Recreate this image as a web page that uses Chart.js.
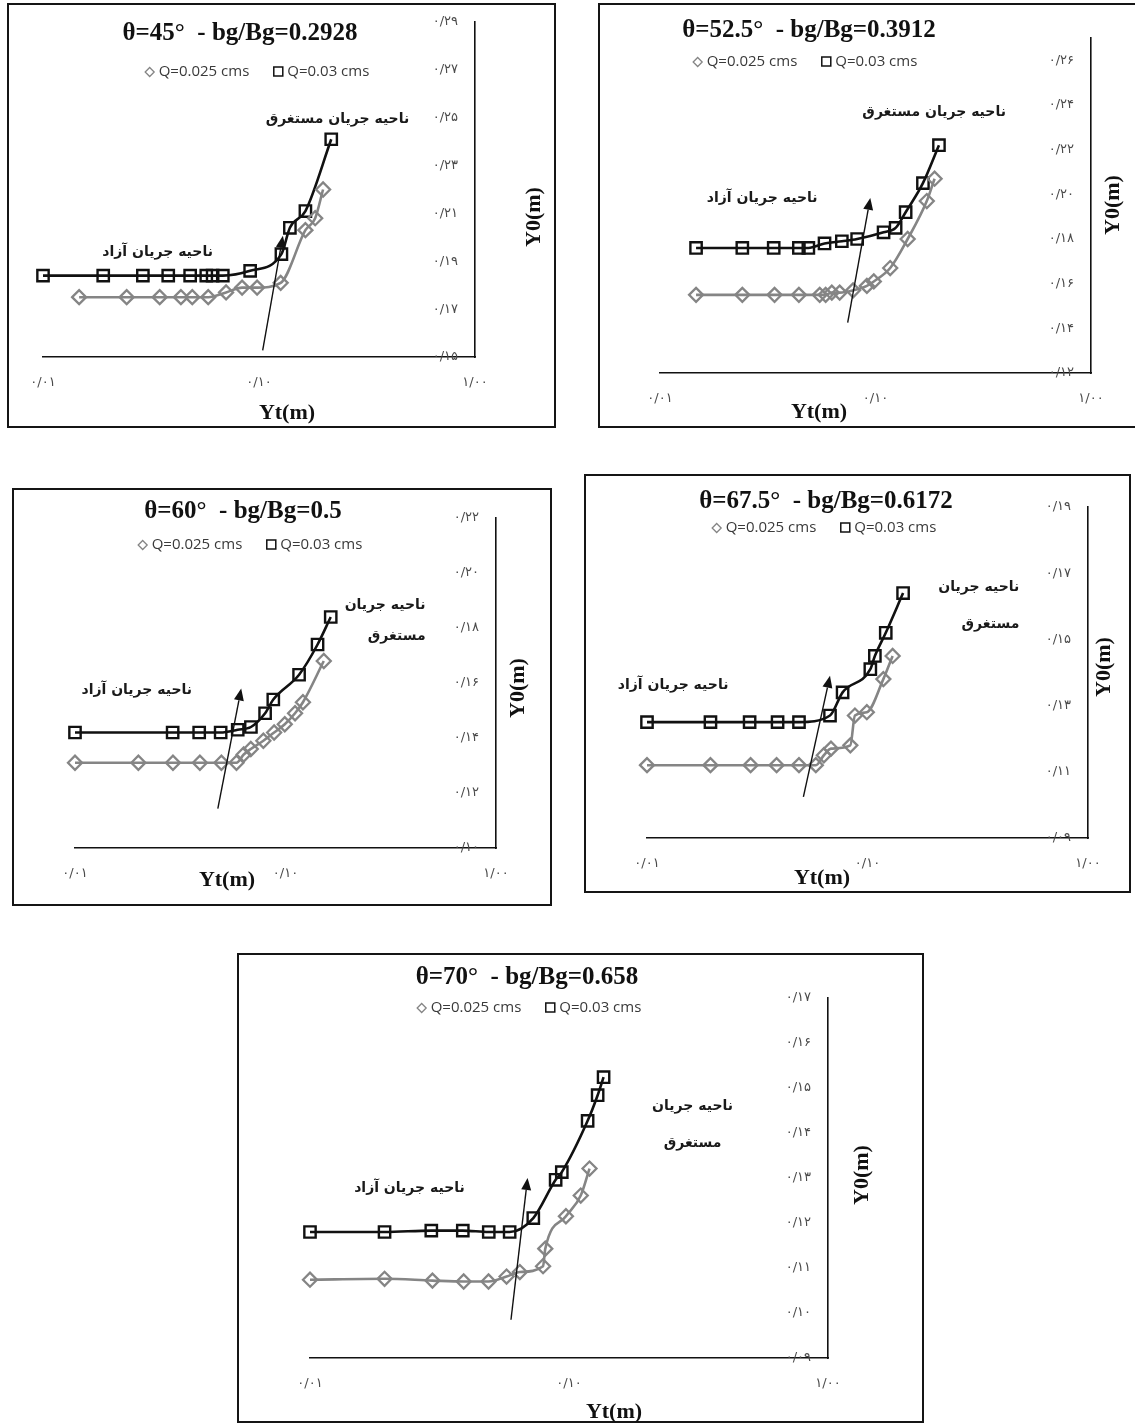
<!DOCTYPE html>
<html>
<head>
<meta charset="utf-8">
<script src="https://cdn.jsdelivr.net/npm/chart.js@4.4.1/dist/chart.umd.min.js"></script>
<style>
  html, body { margin: 0; padding: 0; background: #fff; width: 1135px; height: 1425px; overflow: hidden; }
  .panel { position: absolute; border: 2px solid #151515; box-sizing: border-box; background: #fff; }
  canvas { position: absolute; }
</style>
</head>
<body>
<script>
// Flow depth downstream (Yt) vs. upstream depth (Y0), both in metres,
// for two discharges at each gate angle.
const xTicks = [0.01, 0.1, 1];

// θ = 45°
const yt45_q025 = [0.0147, 0.0244, 0.0347, 0.0435, 0.0491, 0.0582, 0.0704, 0.0835, 0.098, 0.126, 0.164, 0.182, 0.198];
const y0_45_q025 = [0.175, 0.175, 0.175, 0.175, 0.175, 0.175, 0.177, 0.179, 0.179, 0.181, 0.203, 0.208, 0.220];
const yt45_q030 = [0.010, 0.019, 0.029, 0.038, 0.048, 0.057, 0.061, 0.068, 0.091, 0.127, 0.139, 0.164, 0.216];
const y0_45_q030 = [0.184, 0.184, 0.184, 0.184, 0.184, 0.184, 0.184, 0.184, 0.186, 0.193, 0.204, 0.211, 0.241];
const yTicks45 = [0.15, 0.17, 0.19, 0.21, 0.23, 0.25, 0.27, 0.29];

// θ = 52.5°
const yt52_q025 = [0.0147, 0.0241, 0.034, 0.0441, 0.0551, 0.0587, 0.0627, 0.0682, 0.0787, 0.0912, 0.0982, 0.117, 0.141, 0.173, 0.188];
const y0_52_q025 = [0.155, 0.155, 0.155, 0.155, 0.155, 0.155, 0.156, 0.156, 0.157, 0.159, 0.161, 0.167, 0.180, 0.197, 0.207];
const yt52_q030 = [0.0147, 0.0241, 0.0337, 0.0441, 0.0488, 0.058, 0.0698, 0.0822, 0.109, 0.124, 0.138, 0.166, 0.197];
const y0_52_q030 = [0.176, 0.176, 0.176, 0.176, 0.176, 0.178, 0.179, 0.180, 0.183, 0.185, 0.192, 0.205, 0.222];
const yTicks52 = [0.12, 0.14, 0.16, 0.18, 0.20, 0.22, 0.24, 0.26];

// θ = 60°
const yt60_q025 = [0.010, 0.020, 0.0292, 0.0392, 0.0496, 0.0585, 0.0633, 0.0684, 0.0785, 0.0883, 0.0992, 0.111, 0.121, 0.152];
const y0_60_q025 = [0.131, 0.131, 0.131, 0.131, 0.131, 0.131, 0.134, 0.136, 0.139, 0.142, 0.145, 0.149, 0.153, 0.168];
const yt60_q030 = [0.010, 0.0291, 0.0389, 0.0492, 0.0593, 0.0685, 0.080, 0.0875, 0.116, 0.142, 0.164];
const y0_60_q030 = [0.142, 0.142, 0.142, 0.142, 0.143, 0.144, 0.149, 0.154, 0.163, 0.174, 0.184];
const yTicks60 = [0.10, 0.12, 0.14, 0.16, 0.18, 0.20, 0.22];

// θ = 67.5°
const yt67_q025 = [0.010, 0.0194, 0.0295, 0.0387, 0.0489, 0.0583, 0.0634, 0.0683, 0.0836, 0.0877, 0.0993, 0.118, 0.130];
const y0_67_q025 = [0.112, 0.112, 0.112, 0.112, 0.112, 0.112, 0.115, 0.117, 0.118, 0.127, 0.128, 0.138, 0.145];
const yt67_q030 = [0.010, 0.0194, 0.0292, 0.0391, 0.0489, 0.0676, 0.0771, 0.103, 0.108, 0.121, 0.145];
const y0_67_q030 = [0.125, 0.125, 0.125, 0.125, 0.125, 0.127, 0.134, 0.141, 0.145, 0.152, 0.164];
const yTicks67 = [0.09, 0.11, 0.13, 0.15, 0.17, 0.19];

// θ = 70°
const yt70_q025 = [0.010, 0.0194, 0.0297, 0.0392, 0.0489, 0.0574, 0.0646, 0.0794, 0.081, 0.0973, 0.111, 0.120];
const y0_70_q025 = [0.1074, 0.1076, 0.1072, 0.1070, 0.1070, 0.1081, 0.1091, 0.1104, 0.1143, 0.1215, 0.1261, 0.1321];
const yt70_q030 = [0.010, 0.0194, 0.0294, 0.0389, 0.049, 0.059, 0.0728, 0.0888, 0.0938, 0.118, 0.129, 0.136];
const y0_70_q030 = [0.1180, 0.1180, 0.1183, 0.1183, 0.1180, 0.1180, 0.1211, 0.1296, 0.1313, 0.1427, 0.1484, 0.1524];
const yTicks70 = [0.09, 0.10, 0.11, 0.12, 0.13, 0.14, 0.15, 0.16, 0.17];

const seriesNames = ['Q=0.025 cms', 'Q=0.03 cms'];
const zoneFree = 'ناحیه جریان آزاد';
const zoneSubmerged = 'ناحیه جریان مستغرق';
const zoneLine1 = 'ناحیه جریان';
const zoneLine2 = 'مستغرق';

const FA_DIGITS = '۰۱۲۳۴۵۶۷۸۹';
function faNum(v) {
  return Number(v).toFixed(2).replace(/\d/g, d => FA_DIGITS[+d]).replace('.', '/');
}

// Panel layout (page pixels) and annotation anchors (data units)
const panels = [
  { box: [7, 3, 556, 428], plot: [43, 22, 475, 357], yMin: 0.15, yMax: 0.29, yTicks: yTicks45,
    title: 'θ=45°  - bg/Bg=0.2928', titleAt: [240, 34], legendAt: [257, 72],
    xTitleAt: [287, 413], yTitleAt: [534, 217],
    q025: [yt45_q025, y0_45_q025], q030: [yt45_q030, y0_45_q030],
    arrow: [[0.104, 0.1528], [0.129, 0.2007]],
    notes: [[zoneSubmerged, 0.496, 0.2492, 'right'], [zoneFree, 0.0612, 0.1936, 'right']] },
  { box: [598, 3, 1142, 428], plot: [660, 38, 1091, 373], yMin: 0.12, yMax: 0.27, yTicks: yTicks52,
    title: 'θ=52.5°  - bg/Bg=0.3912', titleAt: [809, 31], legendAt: [805, 62],
    xTitleAt: [819, 412], yTitleAt: [1113, 205],
    q025: [yt52_q025, y0_52_q025], q030: [yt52_q030, y0_52_q030],
    arrow: [[0.0743, 0.1426], [0.0946, 0.1984]],
    notes: [[zoneSubmerged, 0.403, 0.2366, 'right'], [zoneFree, 0.0538, 0.1981, 'right']] },
  { box: [12, 488, 552, 906], plot: [75, 518, 496, 848], yMin: 0.10, yMax: 0.22, yTicks: yTicks60,
    title: 'θ=60°  - bg/Bg=0.5', titleAt: [243, 512], legendAt: [250, 545],
    xTitleAt: [227, 880], yTitleAt: [518, 688],
    q025: [yt60_q025, y0_60_q025], q030: [yt60_q030, y0_60_q030],
    arrow: [[0.0477, 0.1143], [0.0616, 0.158]],
    notes: [[zoneLine1, 0.463, 0.1884, 'right'], [zoneLine2, 0.463, 0.1769, 'right'], [zoneFree, 0.036, 0.1574, 'right']] },
  { box: [584, 474, 1131, 893], plot: [647, 507, 1088, 838], yMin: 0.09, yMax: 0.19, yTicks: yTicks67,
    title: 'θ=67.5°  - bg/Bg=0.6172', titleAt: [826, 502], legendAt: [824, 528],
    xTitleAt: [822, 878], yTitleAt: [1104, 667],
    q025: [yt67_q025, y0_67_q025], q030: [yt67_q030, y0_67_q030],
    arrow: [[0.0512, 0.1024], [0.0676, 0.139]],
    notes: [[zoneLine1, 0.488, 0.1657, 'right'], [zoneLine2, 0.488, 0.1546, 'right'], [zoneFree, 0.0234, 0.136, 'right']] },
  { box: [237, 953, 924, 1423], plot: [310, 998, 828, 1358], yMin: 0.09, yMax: 0.17, yTicks: yTicks70,
    title: 'θ=70°  - bg/Bg=0.658', titleAt: [527, 978], legendAt: [529, 1008],
    xTitleAt: [614, 1412], yTitleAt: [862, 1175],
    q025: [yt70_q025, y0_70_q025], q030: [yt70_q030, y0_70_q030],
    arrow: [[0.0597, 0.0985], [0.0692, 0.130]],
    notes: [[zoneLine1, 0.30, 0.1459, 'center'], [zoneLine2, 0.30, 0.1378, 'center'], [zoneFree, 0.0396, 0.1278, 'right']] }
];

const GREY = '#858585';
const BLACK = '#111111';
const X_AXIS_H = 40;

function drawDiamond(ctx, x, y, r) {
  ctx.beginPath();
  ctx.moveTo(x, y - r); ctx.lineTo(x + r, y); ctx.lineTo(x, y + r); ctx.lineTo(x - r, y);
  ctx.closePath(); ctx.stroke();
}

function panelDecor(p) {
  const ox = p.box[0], oy = p.box[1];
  return {
    id: 'panelDecor',
    afterDraw(chart) {
      const ctx = chart.ctx;
      const sx = chart.scales.x, sy = chart.scales.y;
      ctx.save();

      // title
      ctx.fillStyle = '#111';
      ctx.textAlign = 'center';
      ctx.textBaseline = 'middle';
      ctx.font = 'bold 25px "Liberation Serif", "DejaVu Serif", serif';
      ctx.fillText(p.title, p.titleAt[0] - ox, p.titleAt[1] - oy);

      // legend
      ctx.font = '15px "Open Sans", "Liberation Sans", sans-serif';
      const w1 = ctx.measureText(seriesNames[0]).width;
      const w2 = ctx.measureText(seriesNames[1]).width;
      const mk = 10, gapMk = 4, gapItem = 24;
      const total = mk + gapMk + w1 + gapItem + mk + gapMk + w2;
      let lx = p.legendAt[0] - ox - total / 2;
      const ly = p.legendAt[1] - oy;
      ctx.lineWidth = 1.3;
      ctx.strokeStyle = GREY;
      drawDiamond(ctx, lx + mk / 2, ly, 4.5);
      ctx.textAlign = 'left';
      ctx.fillStyle = '#3a3a3a';
      ctx.fillText(seriesNames[0], lx + mk + gapMk, ly);
      lx += mk + gapMk + w1 + gapItem;
      ctx.strokeStyle = BLACK;
      ctx.lineWidth = 1.5;
      ctx.strokeRect(lx + 0.5, ly - 5, 9, 9);
      ctx.fillText(seriesNames[1], lx + mk + gapMk, ly);

      // axis titles
      ctx.fillStyle = '#111';
      ctx.font = 'bold 22px "Liberation Serif", "DejaVu Serif", serif';
      ctx.textAlign = 'center';
      ctx.fillText('Yt(m)', p.xTitleAt[0] - ox, p.xTitleAt[1] - oy);
      ctx.save();
      ctx.translate(p.yTitleAt[0] - ox, p.yTitleAt[1] - oy);
      ctx.rotate(-Math.PI / 2);
      ctx.fillText('Y0(m)', 0, 0);
      ctx.restore();

      // zone notes
      ctx.font = 'bold 14px "DejaVu Sans", sans-serif';
      ctx.fillStyle = '#1a1a1a';
      p.notes.forEach(([txt, xv, yv, align]) => {
        ctx.textAlign = align;
        ctx.fillText(txt, sx.getPixelForValue(xv), sy.getPixelForValue(yv));
      });

      // transition arrow
      const x0 = sx.getPixelForValue(p.arrow[0][0]), y0 = sy.getPixelForValue(p.arrow[0][1]);
      const x1 = sx.getPixelForValue(p.arrow[1][0]), y1 = sy.getPixelForValue(p.arrow[1][1]);
      const ang = Math.atan2(y1 - y0, x1 - x0);
      const hl = 12, hw = 5;
      ctx.strokeStyle = '#111';
      ctx.fillStyle = '#111';
      ctx.lineWidth = 1.4;
      ctx.beginPath();
      ctx.moveTo(x0, y0);
      ctx.lineTo(x1 - hl * Math.cos(ang), y1 - hl * Math.sin(ang));
      ctx.stroke();
      ctx.beginPath();
      ctx.moveTo(x1, y1);
      ctx.lineTo(x1 - hl * Math.cos(ang) - hw * Math.sin(ang), y1 - hl * Math.sin(ang) + hw * Math.cos(ang));
      ctx.lineTo(x1 - hl * Math.cos(ang) + hw * Math.sin(ang), y1 - hl * Math.sin(ang) - hw * Math.cos(ang));
      ctx.closePath();
      ctx.fill();

      ctx.restore();
    }
  };
}

function toPoints(pair) {
  return pair[0].map((x, i) => ({ x: x, y: pair[1][i] }));
}

panels.forEach(p => {
  const [bl, bt, br, bb] = p.box;
  const [pl, pt, pr, pb] = p.plot;
  const W = br - bl, H = bb - bt;

  const frame = document.createElement('div');
  frame.className = 'panel';
  Object.assign(frame.style, { left: bl + 'px', top: bt + 'px', width: W + 'px', height: H + 'px' });
  document.body.appendChild(frame);

  const cv = document.createElement('canvas');
  cv.width = W; cv.height = H;
  Object.assign(cv.style, { left: bl + 'px', top: bt + 'px', width: W + 'px', height: H + 'px' });
  document.body.appendChild(cv);

  const tickFont = { family: '"DejaVu Sans", sans-serif', size: 13 };

  new Chart(cv, {
    type: 'line',
    data: {
      datasets: [
        {
          label: seriesNames[0], data: toPoints(p.q025),
          borderColor: GREY, borderWidth: 2.6, cubicInterpolationMode: 'monotone',
          pointStyle: 'rectRot', pointRadius: 7, pointBorderWidth: 2.3,
          pointBorderColor: GREY, pointBackgroundColor: 'rgba(255,255,255,0)', clip: false
        },
        {
          label: seriesNames[1], data: toPoints(p.q030),
          borderColor: BLACK, borderWidth: 2.6, cubicInterpolationMode: 'monotone',
          pointStyle: 'rect', pointRadius: 8, pointBorderWidth: 2.4,
          pointBorderColor: BLACK, pointBackgroundColor: 'rgba(255,255,255,0)', clip: false
        }
      ]
    },
    options: {
      responsive: false, animation: false, devicePixelRatio: 1,
      layout: { padding: { left: pl - bl, top: pt - bt, right: br - pr, bottom: bb - pb - X_AXIS_H } },
      plugins: { legend: { display: false }, tooltip: { enabled: false }, title: { display: false } },
      scales: {
        x: {
          type: 'logarithmic', position: 'bottom', min: 0.01, max: 1,
          afterBuildTicks: s => { s.ticks = xTicks.map(v => ({ value: v })); },
          afterFit: s => { s.height = X_AXIS_H; },
          grid: { display: false, drawTicks: false },
          border: { display: true, color: '#111', width: 1.6 },
          ticks: { autoSkip: false, maxRotation: 0, padding: 18, color: '#4a4a4a', font: tickFont, callback: v => faNum(v) }
        },
        y: {
          type: 'linear', position: 'right', min: p.yMin, max: p.yMax,
          afterBuildTicks: s => { s.ticks = p.yTicks.map(v => ({ value: v })); },
          afterFit: s => { s.width = 0; },
          grid: { display: false, drawTicks: false },
          border: { display: true, color: '#111', width: 1.6 },
          ticks: { mirror: true, padding: -17, color: '#4a4a4a', font: tickFont, callback: v => faNum(v) }
        }
      }
    },
    plugins: [panelDecor(p)]
  });
});
</script>
</body>
</html>
